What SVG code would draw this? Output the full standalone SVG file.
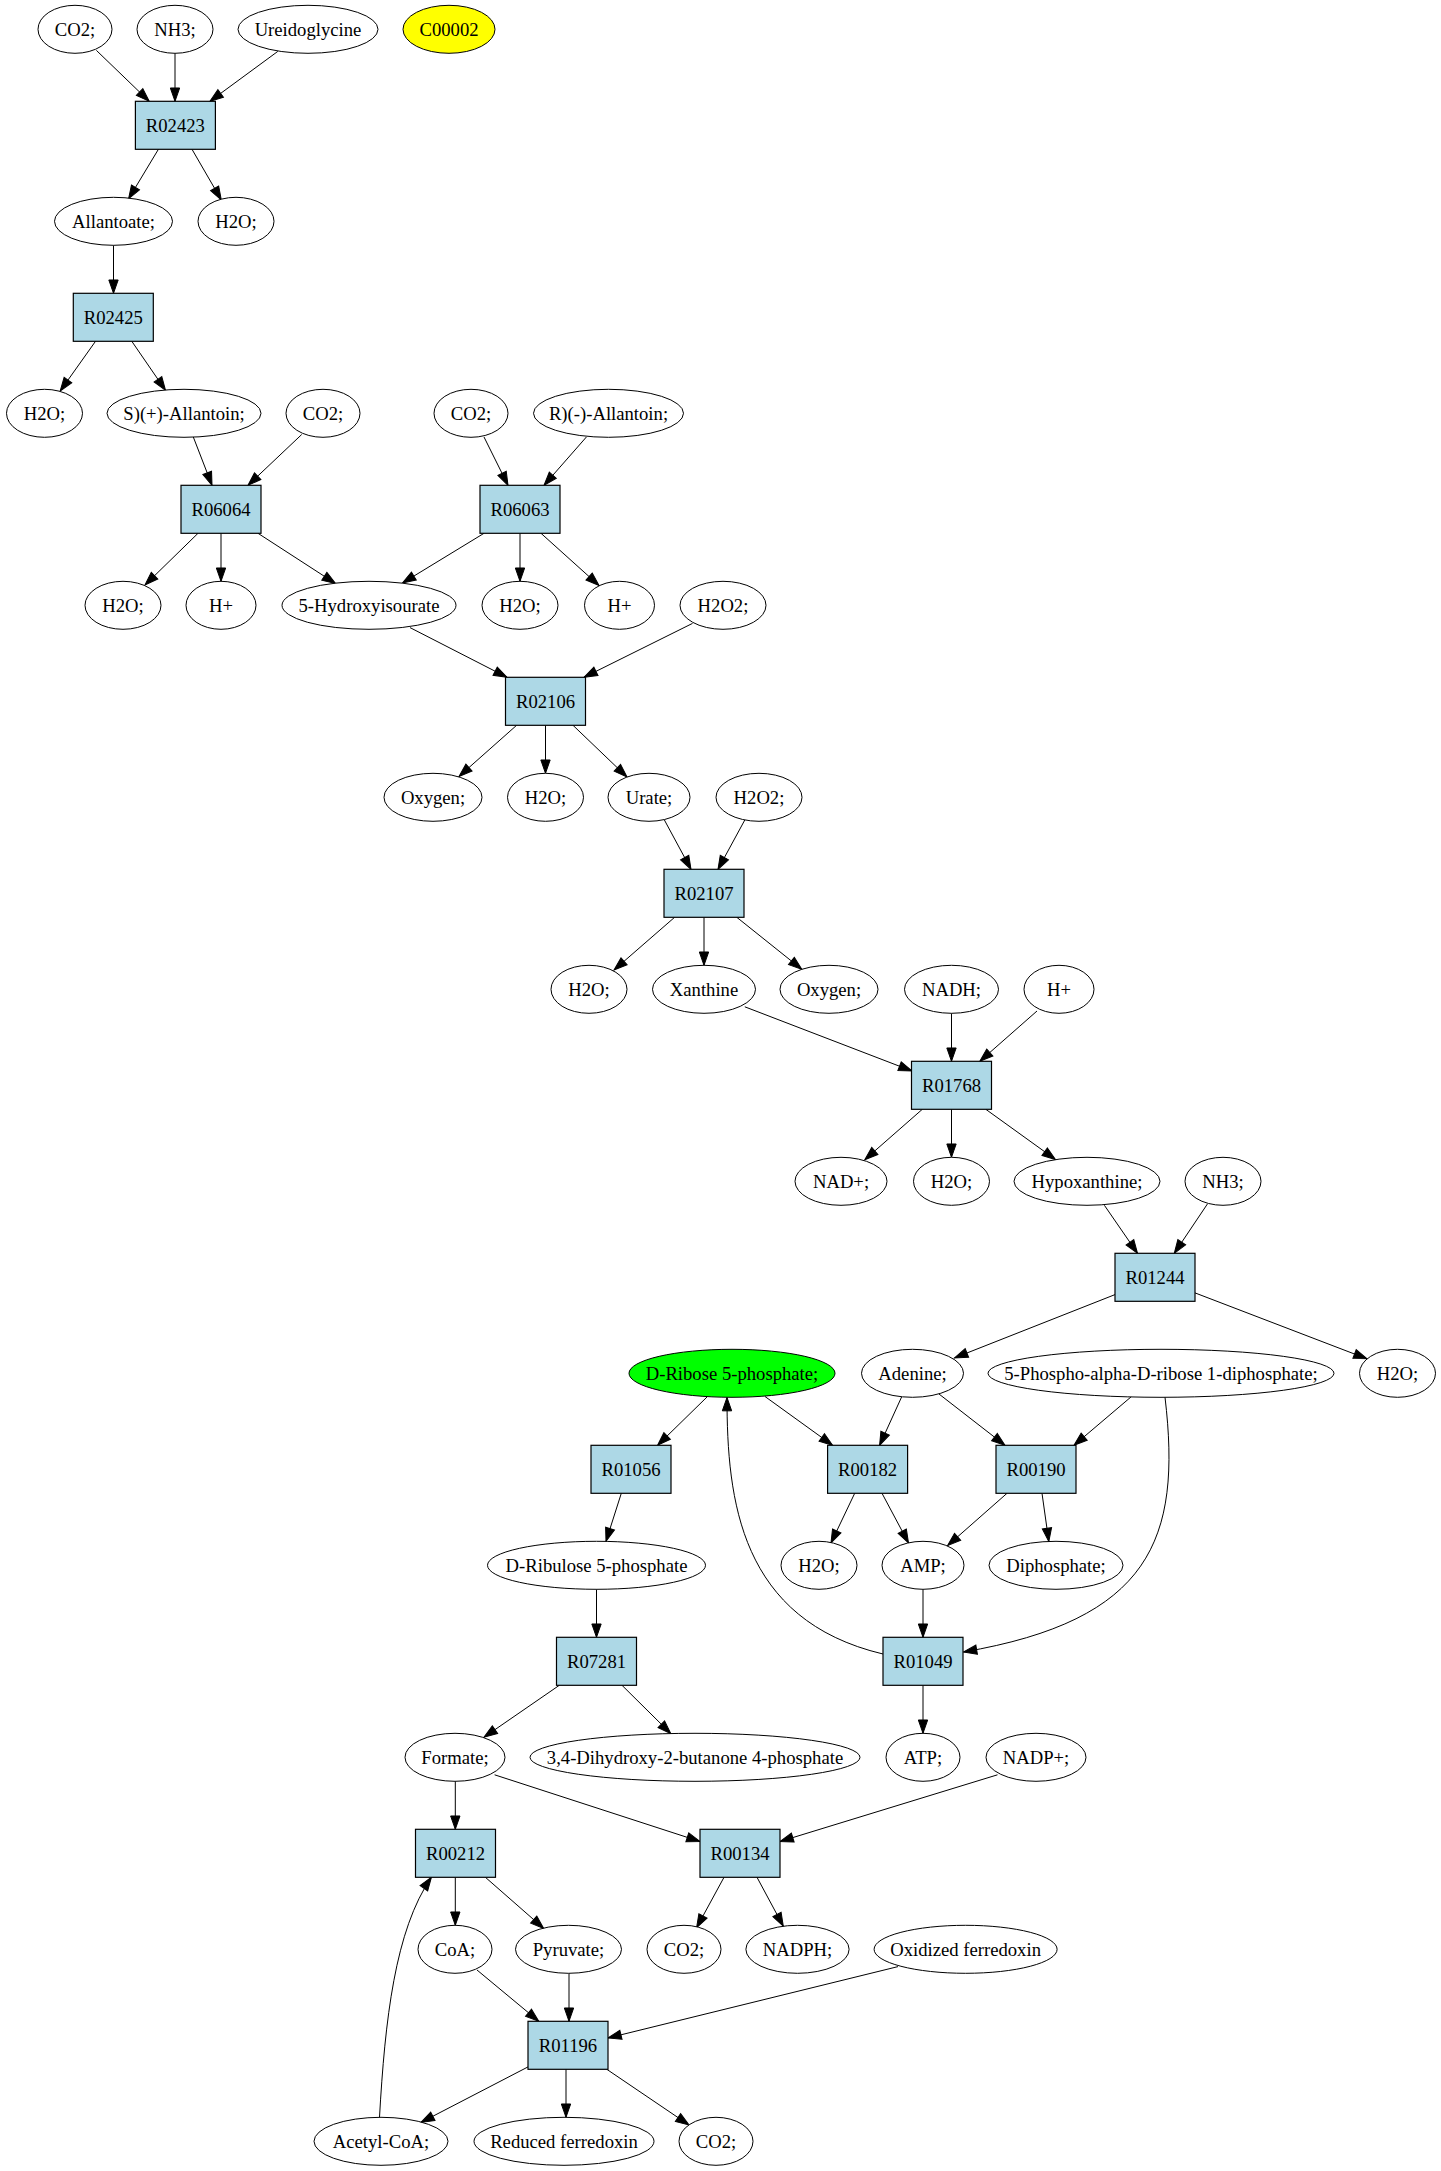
<svg xmlns="http://www.w3.org/2000/svg" width="1441" height="2171" viewBox="0 0 1441 2171">
<style>
.n ellipse{fill:#fff;stroke:#000;stroke-width:1}
.r rect{fill:#add8e6;stroke:#000;stroke-width:1.2}
text{font-family:"Liberation Serif","Times New Roman",serif;font-size:18.67px;text-anchor:middle;fill:#000}
.e path{fill:none;stroke:#000;stroke-width:1;marker-end:url(#a)}
</style>
<defs>
<marker id="a" markerUnits="userSpaceOnUse" markerWidth="14" markerHeight="10" refX="13.33" refY="4.67" orient="auto" overflow="visible">
<path d="M0,0 L13.33,4.67 L0,9.33 z" fill="#000" stroke="#000" stroke-width="1"/>
</marker>
</defs>
<rect width="1441" height="2171" fill="#fff"/>
<g id="edges" class="e">
<path d="M96.4,50.4 L149.2,101.3"/>
<path d="M175,53.3 L175,101.3"/>
<path d="M277.8,51.4 L209.9,101.3"/>
<path d="M158.4,149.3 L128.6,198.8"/>
<path d="M192,149.3 L221.3,199.9"/>
<path d="M113.5,245.3 L113.5,293.3"/>
<path d="M95.5,341.3 L60.2,391"/>
<path d="M131.8,341.3 L165.5,390.3"/>
<path d="M193.3,437 L212,485.3"/>
<path d="M301.7,434.5 L248,485.3"/>
<path d="M484,437 L508,485.3"/>
<path d="M586.4,437 L544,485.3"/>
<path d="M198,533.3 L145,585"/>
<path d="M221,533.3 L221,581.3"/>
<path d="M258,533.3 L335.5,583.5"/>
<path d="M484,533.3 L402.5,583"/>
<path d="M520,533.3 L520,581.3"/>
<path d="M541,533.3 L599,585.5"/>
<path d="M410,627.6 L507,677.3"/>
<path d="M692.5,623.4 L584,677.3"/>
<path d="M516.6,725.3 L459,776.4"/>
<path d="M545.5,725.3 L545.5,773.3"/>
<path d="M573,725.3 L627,777"/>
<path d="M664.4,820 L691,869.3"/>
<path d="M744.8,820 L718,869.3"/>
<path d="M674.6,917.3 L614,970"/>
<path d="M704,917.3 L704,965.3"/>
<path d="M736.8,917.3 L801.8,969.3"/>
<path d="M744.8,1006.8 L912,1071"/>
<path d="M951.5,1013.3 L951.5,1061.3"/>
<path d="M1037,1011 L979.8,1061.3"/>
<path d="M922.3,1109.3 L864.8,1159.7"/>
<path d="M951.5,1109.3 L951.5,1157.3"/>
<path d="M985.8,1109.3 L1055.5,1159.5"/>
<path d="M1104.4,1205.3 L1137.5,1253.3"/>
<path d="M1207.4,1204 L1174.3,1253.3"/>
<path d="M1115,1294.6 L954.5,1357.9"/>
<path d="M1195,1292.9 L1367,1358.8"/>
<path d="M707,1397 L657.6,1445.3"/>
<path d="M765,1396.5 L832.6,1445.3"/>
<path d="M901.6,1397 L879.6,1445.3"/>
<path d="M939,1394 L1005,1445.3"/>
<path d="M1131.5,1396.5 L1074,1445.3"/>
<path d="M1165,1397.2 C1182,1540 1150,1620 963.5,1652"/>
<path d="M621.3,1493.3 L606,1541.3"/>
<path d="M854.7,1493.3 L831,1543"/>
<path d="M882,1493.3 L908.5,1543"/>
<path d="M1007,1493.3 L947.6,1545.6"/>
<path d="M1042,1493.3 L1048.8,1541.5"/>
<path d="M923,1589.3 L923,1637.3"/>
<path d="M883,1654 C740,1620 727,1500 727,1397.5"/>
<path d="M923,1685.3 L923,1733.3"/>
<path d="M596.5,1589.3 L596.5,1637.3"/>
<path d="M559.3,1685.3 L484,1737.2"/>
<path d="M622,1685.3 L670.8,1733.6"/>
<path d="M455.3,1781.3 L455.3,1829.3"/>
<path d="M494.6,1774.8 L700,1841.5"/>
<path d="M997.5,1774.8 L780,1841.5"/>
<path d="M455.3,1877.3 L455.3,1925.3"/>
<path d="M485.4,1877.3 L543.7,1928.4"/>
<path d="M724,1877.3 L696.6,1927.7"/>
<path d="M757,1877.3 L783.3,1926.2"/>
<path d="M477,1970 L538.8,2021.3"/>
<path d="M569,1973.3 L569,2021.3"/>
<path d="M898,1966.6 L608,2038"/>
<path d="M528.2,2066.8 L421,2122.4"/>
<path d="M566,2069.3 L566,2117.3"/>
<path d="M606.8,2069.3 L689,2125"/>
<path d="M379.5,2117.3 C385,2020 395,1930 431.4,1877.3"/>
</g>
<g id="n_co2_1" class="n"><ellipse cx="75" cy="29.3" rx="37" ry="24"/><text x="75" y="35.6">CO2;</text></g>
<g id="n_nh3_1" class="n"><ellipse cx="175" cy="29.3" rx="38" ry="24"/><text x="175" y="35.6">NH3;</text></g>
<g id="n_ureidoglycine" class="n"><ellipse cx="308" cy="29.3" rx="70" ry="24"/><text x="308" y="35.6">Ureidoglycine</text></g>
<g id="n_c00002" class="n"><ellipse cx="449" cy="29.3" rx="46" ry="24" style="fill:#ffff00"/><text x="449" y="35.6">C00002</text></g>
<g id="r_R02423" class="r"><rect x="135.4" y="101.3" width="80" height="48"/><text x="175.4" y="131.6">R02423</text></g>
<g id="n_allantoate" class="n"><ellipse cx="113.5" cy="221.3" rx="59" ry="24"/><text x="113.5" y="227.6">Allantoate;</text></g>
<g id="n_h2o_1" class="n"><ellipse cx="236" cy="221.3" rx="38" ry="24"/><text x="236" y="227.6">H2O;</text></g>
<g id="r_R02425" class="r"><rect x="73.3" y="293.3" width="80" height="48"/><text x="113.3" y="323.6">R02425</text></g>
<g id="n_h2o_2" class="n"><ellipse cx="44.5" cy="413.3" rx="38" ry="24"/><text x="44.5" y="419.6">H2O;</text></g>
<g id="n_s_allantoin" class="n"><ellipse cx="184" cy="413.3" rx="77" ry="24"/><text x="184" y="419.6">S)(+)-Allantoin;</text></g>
<g id="n_co2_2" class="n"><ellipse cx="323" cy="413.3" rx="37" ry="24"/><text x="323" y="419.6">CO2;</text></g>
<g id="n_co2_3" class="n"><ellipse cx="471" cy="413.3" rx="37" ry="24"/><text x="471" y="419.6">CO2;</text></g>
<g id="n_r_allantoin" class="n"><ellipse cx="608.5" cy="413.3" rx="75" ry="24"/><text x="608.5" y="419.6">R)(-)-Allantoin;</text></g>
<g id="r_R06064" class="r"><rect x="181" y="485.3" width="80" height="48"/><text x="221" y="515.6">R06064</text></g>
<g id="r_R06063" class="r"><rect x="480" y="485.3" width="80" height="48"/><text x="520" y="515.6">R06063</text></g>
<g id="n_h2o_3" class="n"><ellipse cx="123" cy="605.3" rx="38" ry="24"/><text x="123" y="611.6">H2O;</text></g>
<g id="n_hplus_1" class="n"><ellipse cx="221" cy="605.3" rx="35" ry="24"/><text x="221" y="611.6">H+</text></g>
<g id="n_5hydroxyisourate" class="n"><ellipse cx="369" cy="605.3" rx="87" ry="24"/><text x="369" y="611.6">5-Hydroxyisourate</text></g>
<g id="n_h2o_4" class="n"><ellipse cx="520" cy="605.3" rx="38" ry="24"/><text x="520" y="611.6">H2O;</text></g>
<g id="n_hplus_2" class="n"><ellipse cx="619.5" cy="605.3" rx="35" ry="24"/><text x="619.5" y="611.6">H+</text></g>
<g id="n_h2o2_1" class="n"><ellipse cx="723" cy="605.3" rx="43" ry="24"/><text x="723" y="611.6">H2O2;</text></g>
<g id="r_R02106" class="r"><rect x="505.5" y="677.3" width="80" height="48"/><text x="545.5" y="707.6">R02106</text></g>
<g id="n_oxygen_1" class="n"><ellipse cx="433" cy="797.3" rx="49" ry="24"/><text x="433" y="803.6">Oxygen;</text></g>
<g id="n_h2o_5" class="n"><ellipse cx="545.5" cy="797.3" rx="38" ry="24"/><text x="545.5" y="803.6">H2O;</text></g>
<g id="n_urate" class="n"><ellipse cx="649" cy="797.3" rx="41" ry="24"/><text x="649" y="803.6">Urate;</text></g>
<g id="n_h2o2_2" class="n"><ellipse cx="759" cy="797.3" rx="43" ry="24"/><text x="759" y="803.6">H2O2;</text></g>
<g id="r_R02107" class="r"><rect x="664" y="869.3" width="80" height="48"/><text x="704" y="899.6">R02107</text></g>
<g id="n_h2o_6" class="n"><ellipse cx="589" cy="989.3" rx="38" ry="24"/><text x="589" y="995.6">H2O;</text></g>
<g id="n_xanthine" class="n"><ellipse cx="704" cy="989.3" rx="51.5" ry="24"/><text x="704" y="995.6">Xanthine</text></g>
<g id="n_oxygen_2" class="n"><ellipse cx="829" cy="989.3" rx="49" ry="24"/><text x="829" y="995.6">Oxygen;</text></g>
<g id="n_nadh" class="n"><ellipse cx="951.5" cy="989.3" rx="47" ry="24"/><text x="951.5" y="995.6">NADH;</text></g>
<g id="n_hplus_3" class="n"><ellipse cx="1059" cy="989.3" rx="35" ry="24"/><text x="1059" y="995.6">H+</text></g>
<g id="r_R01768" class="r"><rect x="911.5" y="1061.3" width="80" height="48"/><text x="951.5" y="1091.6">R01768</text></g>
<g id="n_nadplus" class="n"><ellipse cx="841" cy="1181.3" rx="46" ry="24"/><text x="841" y="1187.6">NAD+;</text></g>
<g id="n_h2o_7" class="n"><ellipse cx="951.5" cy="1181.3" rx="38" ry="24"/><text x="951.5" y="1187.6">H2O;</text></g>
<g id="n_hypoxanthine" class="n"><ellipse cx="1087" cy="1181.3" rx="73" ry="24"/><text x="1087" y="1187.6">Hypoxanthine;</text></g>
<g id="n_nh3_2" class="n"><ellipse cx="1223" cy="1181.3" rx="38" ry="24"/><text x="1223" y="1187.6">NH3;</text></g>
<g id="r_R01244" class="r"><rect x="1115" y="1253.3" width="80" height="48"/><text x="1155" y="1283.6">R01244</text></g>
<g id="n_dribose5p" class="n"><ellipse cx="732" cy="1373.3" rx="103" ry="24" style="fill:#00ff00"/><text x="732" y="1379.6">D-Ribose 5-phosphate;</text></g>
<g id="n_adenine" class="n"><ellipse cx="912.5" cy="1373.3" rx="51" ry="24"/><text x="912.5" y="1379.6">Adenine;</text></g>
<g id="n_prpp" class="n"><ellipse cx="1161" cy="1373.3" rx="173" ry="24"/><text x="1161" y="1379.6">5-Phospho-alpha-D-ribose 1-diphosphate;</text></g>
<g id="n_h2o_8" class="n"><ellipse cx="1397.5" cy="1373.3" rx="38" ry="24"/><text x="1397.5" y="1379.6">H2O;</text></g>
<g id="r_R01056" class="r"><rect x="591" y="1445.3" width="80" height="48"/><text x="631" y="1475.6">R01056</text></g>
<g id="r_R00182" class="r"><rect x="827.6" y="1445.3" width="80" height="48"/><text x="867.6" y="1475.6">R00182</text></g>
<g id="r_R00190" class="r"><rect x="996" y="1445.3" width="80" height="48"/><text x="1036" y="1475.6">R00190</text></g>
<g id="n_dribulose5p" class="n"><ellipse cx="596.5" cy="1565.3" rx="109" ry="24"/><text x="596.5" y="1571.6">D-Ribulose 5-phosphate</text></g>
<g id="n_h2o_9" class="n"><ellipse cx="819" cy="1565.3" rx="38" ry="24"/><text x="819" y="1571.6">H2O;</text></g>
<g id="n_amp" class="n"><ellipse cx="923" cy="1565.3" rx="41" ry="24"/><text x="923" y="1571.6">AMP;</text></g>
<g id="n_diphosphate" class="n"><ellipse cx="1056" cy="1565.3" rx="67" ry="24"/><text x="1056" y="1571.6">Diphosphate;</text></g>
<g id="r_R07281" class="r"><rect x="556.5" y="1637.3" width="80" height="48"/><text x="596.5" y="1667.6">R07281</text></g>
<g id="r_R01049" class="r"><rect x="883" y="1637.3" width="80" height="48"/><text x="923" y="1667.6">R01049</text></g>
<g id="n_formate" class="n"><ellipse cx="455" cy="1757.3" rx="50" ry="24"/><text x="455" y="1763.6">Formate;</text></g>
<g id="n_dhbp" class="n"><ellipse cx="695" cy="1757.3" rx="165" ry="24"/><text x="695" y="1763.6">3,4-Dihydroxy-2-butanone 4-phosphate</text></g>
<g id="n_atp" class="n"><ellipse cx="923" cy="1757.3" rx="37" ry="24"/><text x="923" y="1763.6">ATP;</text></g>
<g id="n_nadpplus" class="n"><ellipse cx="1036" cy="1757.3" rx="50" ry="24"/><text x="1036" y="1763.6">NADP+;</text></g>
<g id="r_R00212" class="r"><rect x="415.5" y="1829.3" width="80" height="48"/><text x="455.5" y="1859.6">R00212</text></g>
<g id="r_R00134" class="r"><rect x="700" y="1829.3" width="80" height="48"/><text x="740" y="1859.6">R00134</text></g>
<g id="n_coa" class="n"><ellipse cx="455" cy="1949.3" rx="37" ry="24"/><text x="455" y="1955.6">CoA;</text></g>
<g id="n_pyruvate" class="n"><ellipse cx="568.5" cy="1949.3" rx="53" ry="24"/><text x="568.5" y="1955.6">Pyruvate;</text></g>
<g id="n_co2_4" class="n"><ellipse cx="684" cy="1949.3" rx="37" ry="24"/><text x="684" y="1955.6">CO2;</text></g>
<g id="n_nadph" class="n"><ellipse cx="797.5" cy="1949.3" rx="51.6" ry="24"/><text x="797.5" y="1955.6">NADPH;</text></g>
<g id="n_oxferredoxin" class="n"><ellipse cx="965.6" cy="1949.3" rx="91.5" ry="24"/><text x="965.6" y="1955.6">Oxidized ferredoxin</text></g>
<g id="r_R01196" class="r"><rect x="528" y="2021.3" width="80" height="48"/><text x="568" y="2051.6">R01196</text></g>
<g id="n_acetylcoa" class="n"><ellipse cx="381" cy="2141.3" rx="67" ry="24"/><text x="381" y="2147.6">Acetyl-CoA;</text></g>
<g id="n_redferredoxin" class="n"><ellipse cx="564" cy="2141.3" rx="90" ry="24"/><text x="564" y="2147.6">Reduced ferredoxin</text></g>
<g id="n_co2_5" class="n"><ellipse cx="716" cy="2141.3" rx="37" ry="24"/><text x="716" y="2147.6">CO2;</text></g>
</svg>
